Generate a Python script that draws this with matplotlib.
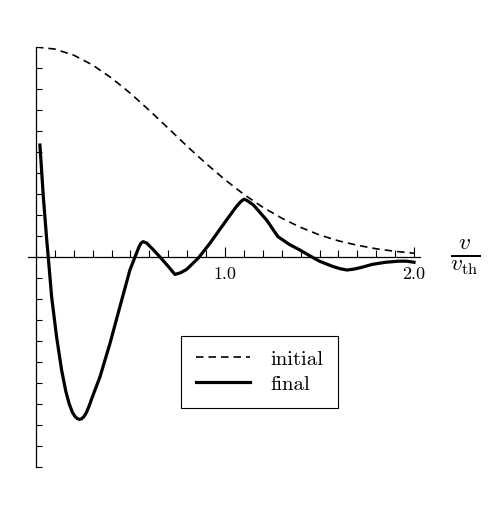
import matplotlib
matplotlib.use("Agg")
import matplotlib.pyplot as plt
from matplotlib.ticker import MultipleLocator, FixedLocator, NullFormatter

v_init = [0.0, 0.1, 0.2, 0.3, 0.4, 0.5, 0.6, 0.7, 0.8, 0.9, 1.0,
          1.1, 1.2, 1.3, 1.4, 1.5, 1.6, 1.7, 1.8, 1.9, 2.0]
f_init = [1.0, 0.99, 0.961, 0.914, 0.852, 0.779, 0.698, 0.613, 0.527, 0.445, 0.368,
          0.298, 0.237, 0.185, 0.141, 0.105, 0.077, 0.056, 0.039, 0.027, 0.018]

# solid (final) curve
v_final = [0.021, 0.039, 0.057, 0.065, 0.083, 0.109, 0.136, 0.158, 0.176, 0.193, 0.207,
           0.219, 0.229, 0.240, 0.252, 0.266, 0.281, 0.299, 0.339, 0.392, 0.444, 0.497,
           0.524, 0.545, 0.556, 0.567, 0.585, 0.62, 0.656, 0.70, 0.735, 0.765, 0.797,
           0.858, 0.92, 1.008, 1.06, 1.085, 1.10, 1.115, 1.15, 1.22, 1.28, 1.34, 1.397,
           1.45, 1.50, 1.57, 1.61, 1.645, 1.68, 1.72, 1.78, 1.85, 1.92, 1.96, 2.0]
f_final = [0.533, 0.287, 0.081, 0.0, -0.19, -0.38, -0.54, -0.64, -0.70, -0.74, -0.76,
           -0.77, -0.773, -0.771, -0.762, -0.742, -0.71, -0.665, -0.57, -0.41, -0.237, -0.062,
           0.0, 0.048, 0.066, 0.073, 0.067, 0.035, 0.0, -0.045, -0.083, -0.075, -0.059,
           -0.006, 0.065, 0.176, 0.24, 0.265, 0.275, 0.27, 0.248, 0.176, 0.097, 0.06, 0.033,
           0.005, -0.02, -0.045, -0.056, -0.062, -0.058, -0.05, -0.035, -0.025, -0.02, -0.02, -0.025]

plt.rcParams['mathtext.fontset'] = 'cm'
plt.rcParams['font.family'] = 'serif'
plt.rcParams['font.serif'] = ['cmr10', 'DejaVu Serif']
plt.rcParams['axes.formatter.use_mathtext'] = True

fig = plt.figure(figsize=(5.0, 5.08), dpi=100)
ax = fig.add_axes([0.0568, 0.0807, 0.7826, 0.8268])

ax.plot(v_init, f_init, color='black', lw=1.2, ls=(0, (4.5, 3)), label='initial')
ax.plot(v_final, f_final, color='black', lw=2.3, label='final',
        solid_joinstyle='round')

ax.set_xlim(-0.04, 2.03)
ax.set_ylim(-1.0, 1.0)

ax.spines['left'].set_position(('data', 0))
ax.spines['bottom'].set_position(('data', 0))
ax.spines['top'].set_visible(False)
ax.spines['right'].set_visible(False)
for s in ('left', 'bottom'):
    ax.spines[s].set_linewidth(0.9)

ax.xaxis.set_major_locator(FixedLocator([1.0, 2.0]))
ax.xaxis.set_minor_locator(MultipleLocator(0.1))
ax.set_xticklabels(['1.0', '2.0'])
ax.yaxis.set_major_locator(MultipleLocator(0.1))
ax.yaxis.set_major_formatter(NullFormatter())
ax.tick_params(axis='x', which='major', direction='in', length=7, width=0.8,
               labelsize=13, pad=7)
ax.tick_params(axis='x', which='minor', direction='in', length=5, width=0.8)
ax.tick_params(axis='y', which='major', direction='in', length=4, width=0.8)

ax.text(1.115, 0.5, r'$\frac{v}{v_{\mathrm{th}}}$', transform=ax.transAxes,
        fontsize=24, ha='center', va='center')

leg = ax.legend(loc='lower left', bbox_to_anchor=(0.39, 0.14), fontsize=15,
                fancybox=False, framealpha=1, edgecolor='black',
                handlelength=2.6, handletextpad=1.0, borderpad=0.7,
                labelspacing=0.3, borderaxespad=0)
leg.get_frame().set_linewidth(0.8)

fig.savefig('out.png', dpi=100)
